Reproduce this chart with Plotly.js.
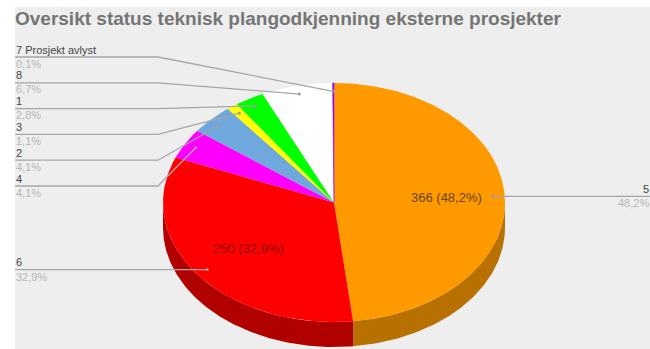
<!DOCTYPE html>
<html>
<head>
<meta charset="utf-8">
<script src="https://cdn.plot.ly/plotly-3.0.1.min.js"></script>
<style>html,body{margin:0;padding:0;background:#fff}#chart{width:650px;height:349px}</style>
</head>
<body>
<div id="chart"></div>
<script>
// Project status counts, clockwise from twelve o'clock
const categories = ["5", "6", "4", "2", "3", "1", "8", "7 Prosjekt avlyst"];
const values = [366, 250, 31, 31, 8, 21, 51, 1];
const percentLabels = ["48,2%", "32,9%", "4,1%", "4,1%", "1,1%", "2,8%", "6,7%", "0,1%"];
const sliceColors = ["#ff9900", "#ff0000", "#ff00ff", "#6fa8dc", "#ffff00", "#00ff00", "#ffffff", "#9900ff"];
const sideColors = ["#b87000", "#b00000"];
const insideLabels = ["366 (48,2%)", "250 (32,9%)"];
const insideLabelColors = ["#6b4300", "#8f0000"];
const stackedRows = ["7 Prosjekt avlyst", "8", "1", "3", "2", "4"];

// Pie geometry on a pixel-scaled pair of axes
const cx = 334, cy = 202.5, rx = 171, ry = 119.5, depth = 25;
const leaderRadius = 0.93, elbowX = 158, firstRowY = 57, rowStep = 25.8;
const total = values.reduce((a, b) => a + b, 0);

const px = (t, r = 1) => cx + rx * r * Math.sin(t);
const py = (t, r = 1) => cy - ry * r * Math.cos(t);

let acc = 0;
const slices = categories.map((name, i) => {
  const start = acc / total * 2 * Math.PI;
  acc += values[i];
  return { name, i, start, end: acc / total * 2 * Math.PI };
});

function arc(a, b) {
  const n = Math.max(2, Math.ceil((b - a) / 0.01));
  return Array.from({ length: n + 1 }, (_, k) => a + (b - a) * k / n);
}

const traces = [];

// Extruded rim: only the front half of the pie shows it
slices.slice(0, 2).forEach(s => {
  const a = Math.max(s.start, Math.PI / 2), b = Math.min(s.end, 1.5 * Math.PI);
  const ts = arc(a, b);
  traces.push({
    x: ts.map(t => px(t)).concat(ts.slice().reverse().map(t => px(t))),
    y: ts.map(t => py(t)).concat(ts.slice().reverse().map(t => py(t) + depth)),
    mode: "lines", fill: "toself", fillcolor: sideColors[s.i],
    line: { width: 0 }, hoverinfo: "skip"
  });
});

// Top face wedges
slices.forEach(s => {
  const ts = arc(s.start, s.end);
  traces.push({
    x: [cx].concat(ts.map(t => px(t)), [cx]),
    y: [cy].concat(ts.map(t => py(t)), [cy]),
    mode: "lines", fill: "toself", fillcolor: sliceColors[s.i],
    line: { width: s.name.startsWith("7") ? 0.5 : 0, color: sliceColors[s.i] },
    name: s.name, hoverinfo: "skip"
  });
});

// Leader lines from the slice middles out to their labels
const annotations = [];
const note = (x, y, text, color, anchor = "left", size = 11) => annotations.push({
  x, y, text, xref: "x", yref: "y", showarrow: false, xanchor: anchor, yanchor: "middle",
  align: anchor, borderpad: 0, font: { family: "Liberation Sans, Arial, sans-serif", size, color }
});

slices.forEach(s => {
  const mid = (s.start + s.end) / 2;
  const ex = px(mid, leaderRadius), ey = py(mid, leaderRadius);
  const row = stackedRows.indexOf(s.name);
  let xs, ys;
  if (row >= 0) {
    const y = firstRowY + row * rowStep;
    xs = [15, elbowX, ex]; ys = [y, y, ey];
    note(15, y - 7.5, s.name, "#444444");
    note(15, y + 6.5, percentLabels[s.i], "#b5b5b5");
  } else if (mid < Math.PI) {
    xs = [ex, 650]; ys = [ey, ey];
    note(650, ey - 7, s.name, "#444444", "right");
    note(650, ey + 7, percentLabels[s.i], "#b5b5b5", "right");
  } else {
    xs = [15, ex]; ys = [ey, ey];
    note(15, ey - 7.5, s.name, "#444444");
    note(15, ey + 7.5, percentLabels[s.i], "#b5b5b5");
  }
  traces.push({ x: xs, y: ys, mode: "lines", line: { color: "#a6a6a6", width: 1.3 }, hoverinfo: "skip" });
  traces.push({ x: [ex], y: [ey], mode: "markers", marker: { color: "#9a9a9a", size: 3 }, hoverinfo: "skip" });
});

// Value labels inside the two large slices
note(px((slices[0].start + slices[0].end) / 2, 0.66), 197, insideLabels[0], insideLabelColors[0], "center", 13);
note(px((slices[1].start + slices[1].end) / 2, 0.626), 248, insideLabels[1], insideLabelColors[1], "center", 13);

const layout = {
  width: 650, height: 349,
  margin: { l: 15, r: 0, t: 7, b: 0, pad: 0 },
  paper_bgcolor: "#ffffff", plot_bgcolor: "#eeeeee",
  showlegend: false, hovermode: false,
  title: {
    text: "<b>Oversikt status teknisk plangodkjenning eksterne prosjekter</b>",
    x: 15 / 650, xref: "container", xanchor: "left",
    y: 1 - 18 / 349, yref: "container", yanchor: "middle",
    font: { family: "Liberation Sans, Arial, sans-serif", size: 19, color: "#757575" }
  },
  xaxis: { range: [15, 650], visible: false, fixedrange: true },
  yaxis: { range: [349, 7], visible: false, fixedrange: true },
  annotations
};

Plotly.newPlot("chart", traces, layout, { displayModeBar: false, staticPlot: true });
</script>
</body>
</html>
